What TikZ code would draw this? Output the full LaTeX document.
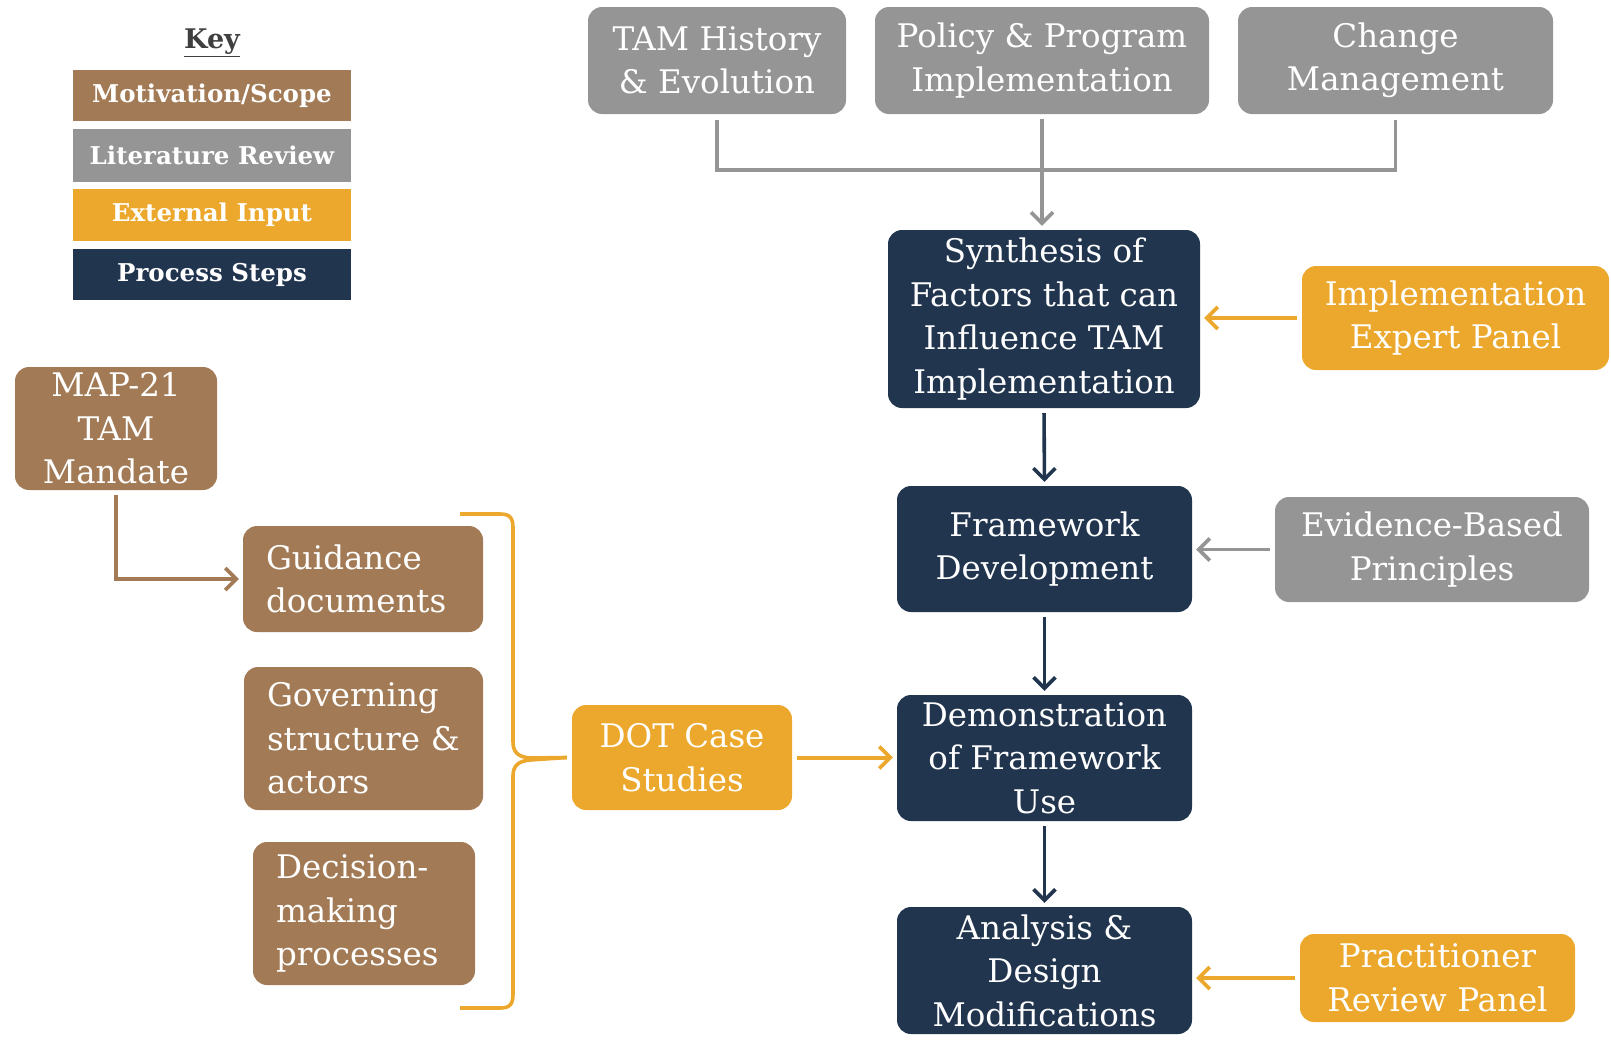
\documentclass[tikz,border=0pt]{standalone}
\usepackage{fontspec}
\setmainfont{DejaVu Serif}
\usetikzlibrary{arrows.meta}

\definecolor{scopebrown}{HTML}{A27B56}
\definecolor{litgray}{HTML}{959595}
\definecolor{extorange}{HTML}{ECA82C}
\definecolor{procnavy}{HTML}{21354F}
\definecolor{keytext}{HTML}{3F3F3F}

\begin{document}
\begin{tikzpicture}[x=1pt,y=-1pt,
  box/.style={rounded corners=14pt, text=white, align=center, inner sep=0pt,
              font=\fontsize{32.5}{43.5}\selectfont},
  lbox/.style={box, align=left, inner xsep=23pt},
  size/.style 2 args={minimum width=#1pt, minimum height=#2pt},
  keybox/.style={minimum width=278pt, inner sep=0pt, text=white,
                 font=\bfseries\fontsize{24.5}{28}\selectfont},
  conn/.style={line width=3.6pt, -{Straight Barb[length=11pt,width=22pt,line width=3.6pt]},
               shorten >=4pt, shorten <=5pt},
]
\useasboundingbox (0,0) rectangle (1611,1039);

% legend
\node[text=keytext, font=\bfseries\fontsize{27}{30}\selectfont] (keyt) at (212,43) {\underline{Key}};
\node[keybox, fill=scopebrown, minimum height=51pt] (k1) at (212,95.5) {Motivation/Scope};
\node[keybox, fill=litgray,    minimum height=53pt] (k2) at (212,155.5) {Literature Review};
\node[keybox, fill=extorange,  minimum height=52pt] (k3) at (212,215) {External Input};
\node[keybox, fill=procnavy,   minimum height=51pt] (k4) at (212,274.5) {Process Steps};

% literature review sources
\node[box, fill=litgray, size={258}{107}] (tam)    at (717,60.5)  {TAM History\\\& Evolution};
\node[box, fill=litgray, size={334}{107}] (policy) at (1042,60.5) {Policy \& Program\\Implementation};
\node[box, fill=litgray, size={315}{107}] (change) at (1395.5,60.5) {Change\\Management};

% process steps
\node[box, fill=procnavy, size={312}{178}] (synth) at (1044,319) {Synthesis of\\Factors that can\\Influence TAM\\Implementation};
\node[box, fill=procnavy, size={295}{126}] (frame) at (1044.5,549) {Framework\\Development};
\node[box, fill=procnavy, size={295}{126}] (demo)  at (1044.5,758) {Demonstration\\of Framework\\Use};
\node[box, fill=procnavy, size={295}{127}] (anal)  at (1044.5,970.5) {Analysis \&\\Design\\Modifications};

% external inputs and principles
\node[box, fill=extorange, size={307}{104}] (expert) at (1455.5,318) {Implementation\\Expert Panel};
\node[box, fill=litgray,   size={314}{105}] (evid)   at (1432,549.5) {Evidence-Based\\Principles};
\node[box, fill=extorange, size={220}{105}] (dot)    at (682,757.5) {DOT Case\\Studies};
\node[box, fill=extorange, size={275}{88}]  (pract)  at (1437.5,978) {Practitioner\\Review Panel};

% motivation / scope
\node[box, fill=scopebrown, size={202}{123}] (map) at (116,428.5) {MAP-21\\TAM\\Mandate};
\node[lbox, fill=scopebrown, size={240}{106}, text width=194pt] (guid) at (363,579) {Guidance\\documents};
\node[lbox, fill=scopebrown, size={239}{143}, text width=193pt] (gov)  at (363.5,738.5) {Governing\\structure~\&\\actors};
\node[lbox, fill=scopebrown, size={222}{143}, text width=176pt] (dec) at (364,913.5) {Decision-\\making\\processes};

% literature sources merge into the synthesis
\coordinate (hub) at (1042,170);
\draw[litgray, line width=3.6pt, shorten <=6pt, shorten >=6pt]
  (tam.south) -- (tam.south |- hub) -- (change.south |- hub) -- (change.south);
\draw[conn, litgray] (policy.south) -- (policy.south |- synth.north);

% main process chain
\draw[conn, procnavy] (synth.south) -- (frame.north);
\draw[conn, procnavy] (frame.south) -- (demo.north);
\draw[conn, procnavy] (demo.south) -- (anal.north);

% side inputs
\draw[conn, extorange, line width=4pt] (expert.west) -- (expert.west -| synth.east);
\draw[conn, litgray] (evid.west) -- (evid.west -| frame.east);
\draw[conn, extorange, line width=4pt] (dot.east) -- (dot.east -| demo.west);
\draw[conn, extorange, line width=4pt] (pract.west) -- (pract.west -| anal.east);

% mandate leads to guidance
\draw[conn, scopebrown] (map.south) |- (guid.west);

% brace gathering the scope topics into the case studies
\coordinate (btop) at (460,514);
\coordinate (bbot) at (460,1008);
\draw[extorange, line width=3.6pt, line join=round]
  (btop) -- (500,514) .. controls (510,514) and (513,518) .. (513,528)
  -- (513,742) .. controls (513,752) and (518,757) .. (530,758)
  -- ([xshift=-5pt]dot.west);
\draw[extorange, line width=3.6pt, line join=round]
  ([xshift=-5pt]dot.west) -- (530,760) .. controls (518,761) and (513,766) .. (513,776)
  -- (513,994) .. controls (513,1004) and (510,1008) .. (500,1008) -- (bbot);
\end{tikzpicture}
\end{document}
